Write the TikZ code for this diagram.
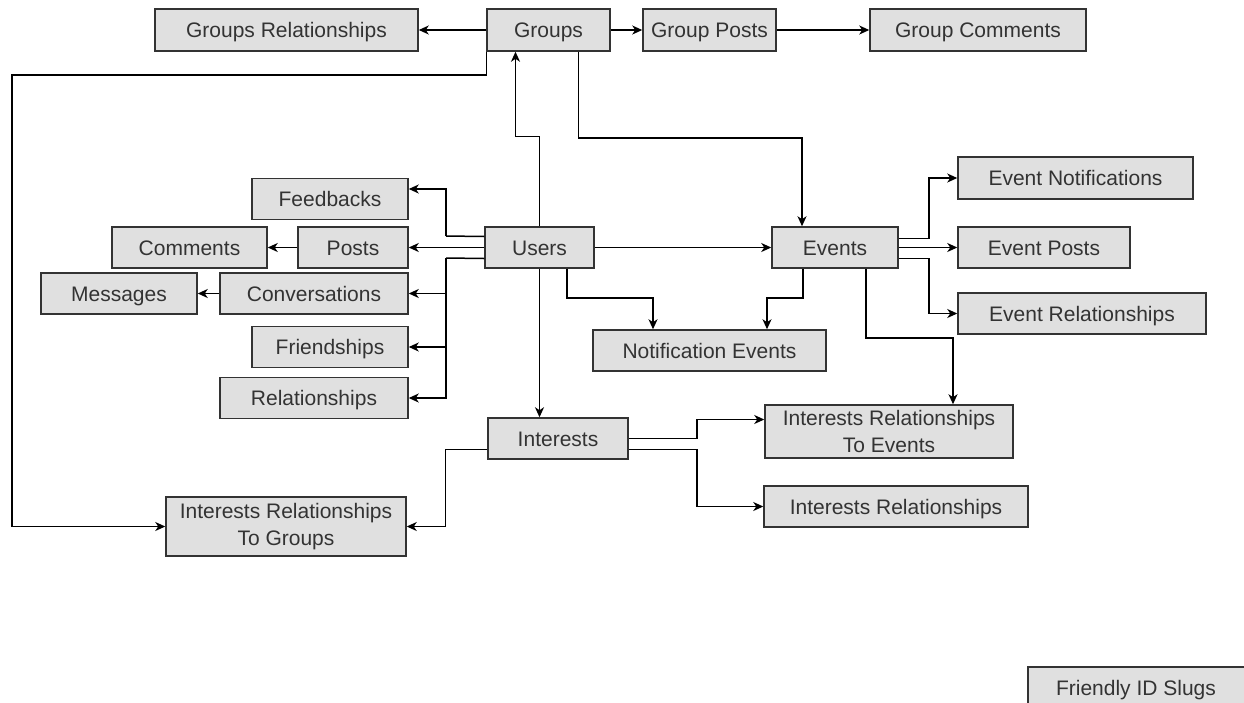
\documentclass[tikz,border=0pt]{standalone}
\usepackage{fontspec}
\setmainfont{Liberation Sans}
\usetikzlibrary{arrows.meta}
\definecolor{boxfill}{HTML}{E0E0E0}
\definecolor{boxline}{HTML}{333333}
\definecolor{txt}{HTML}{333333}
\newcommand\bx[6]{\node[box,oneline,minimum width=#4pt,minimum height=#5pt] (#1) at (#2,#3) {#6};}
\newcommand\bxx[6]{\node[box,minimum width=#4pt,minimum height=#5pt] (#1) at (#2,#3) {\rule{0pt}{3pt}#6};}
\begin{document}
\begin{tikzpicture}[x=1pt,y=-1pt,
 lbl/.style={text=txt, font=\fontsize{21}{26.5}\selectfont, align=center},
 oneline/.style={text height=15pt, text depth=0pt},
 box/.style={lbl, draw=boxline, fill=boxfill, line width=1.5pt, inner sep=0pt},
 arr/.style={draw=black, line width=1.5pt, -{Stealth[length=10pt,width=9pt,inset=3pt]}},
 ln/.style={draw=black, line width=1.5pt}]
\useasboundingbox[fill=white] (0,0) rectangle (1244,702);
\clip (0,0) rectangle (1244,702);
\bx{grel}{286.5}{30}{263}{42}{Groups Relationships}
\bx{groups}{548.5}{30}{123}{42}{Groups}
\bx{gposts}{709.5}{30}{133}{42}{Group Posts}
\bx{gcomm}{978}{30}{216}{42}{Group Comments}
\bx{feed}{330}{199}{156}{41}{Feedbacks}
\bx{comm}{189.5}{247.5}{155}{41}{Comments}
\bx{posts}{353}{247.5}{110}{41}{Posts}
\bx{users}{539.5}{247.5}{109}{41}{Users}
\bx{events}{835}{247.5}{126}{41}{Events}
\bx{evnot}{1075.5}{178}{235}{42}{Event Notifications}
\bx{evposts}{1044}{247.5}{172}{41}{Event Posts}
\bx{evrel}{1082}{313.5}{248}{41}{Event Relationships}
\bx{msg}{119}{293.5}{156}{41}{Messages}
\bx{conv}{314}{293.5}{188}{41}{Conversations}
\bx{friend}{330}{347}{156}{41}{Friendships}
\bx{rel}{314}{398}{188}{41}{Relationships}
\bx{notif}{709.5}{350.5}{233}{41}{Notification Events}
\bx{interests}{558}{438.5}{140}{41}{Interests}
\bxx{irte}{889}{431.5}{248}{53}{Interests Relationships\\To Events}
\bx{irel}{896}{506.5}{264}{41}{Interests Relationships}
\bxx{irtg}{286}{526.5}{240}{59}{Interests Relationships\\To Groups}
\node[box,minimum width=250pt,minimum height=46pt] (slug) at (1153,690) {};
\node[lbl,oneline] (slugtext) at (1136,688) {Friendly ID Slugs};
% Groups row
\draw[arr] (groups) -- (grel);
\draw[arr] (groups) -- (gposts);
\draw[arr] (gposts) -- (gcomm);
\coordinate (gl) at (12,75);
\draw[arr] (groups.south west) -- (groups.south west |- gl) -- (gl) |- (irtg.west);
% Users -> Groups, Groups -> Events
\draw[arr] (users.north) -- ++(0,-90) -| ([xshift=-33]groups.south);
\draw[arr] ([xshift=30]groups.south) -- ++(0,86) -| ([xshift=-33]events.north);
% Users left side
\coordinate (busF) at (446,236);
\coordinate (busL) at (446,258);
\draw[ln] ([yshift=11]users.west) -- (busF);
\draw[arr] (busF) |- ([yshift=10]feed.east);
\draw[arr] (users) -- (posts);
\draw[arr] (posts) -- (comm);
\draw[ln] ([yshift=-11]users.west) -- (busL);
\draw[arr] (busL) |- (conv.east);
\draw[arr] (busL) |- (friend.east);
\draw[arr] (busL) |- (rel.east);
\draw[arr] (conv) -- (msg);
% Users down
\draw[arr] (users.south) -- (users.south |- interests.north);
\draw[arr] (users) -- (events);
\draw[arr] ([xshift=27.5]users.south) -- ++(0,29) -| ([xshift=-56.5]notif.north);
\draw[arr] ([xshift=-32]events.south) -- ++(0,29) -| ([xshift=57.5]notif.north);
% Events right
\draw[arr] ([yshift=9]events.east) -- ++(30,0) |- (evnot.west);
\draw[arr] (events) -- (evposts);
\draw[arr] ([yshift=-11]events.east) -- ++(30,0) |- (evrel.west);
\draw[arr] ([xshift=31]events.south) -- ++(0,69) -| ([xshift=64]irte.north);
% Interests
\draw[arr] (interests.east) -- ++(68,0) |- ([yshift=12]irte.west);
\draw[arr] ([yshift=-11]interests.east) -- ++(68,0) |- (irel.west);
\draw[arr] ([yshift=-11]interests.west) -- ++(-42,0) |- (irtg.east);
\end{tikzpicture}
\end{document}
